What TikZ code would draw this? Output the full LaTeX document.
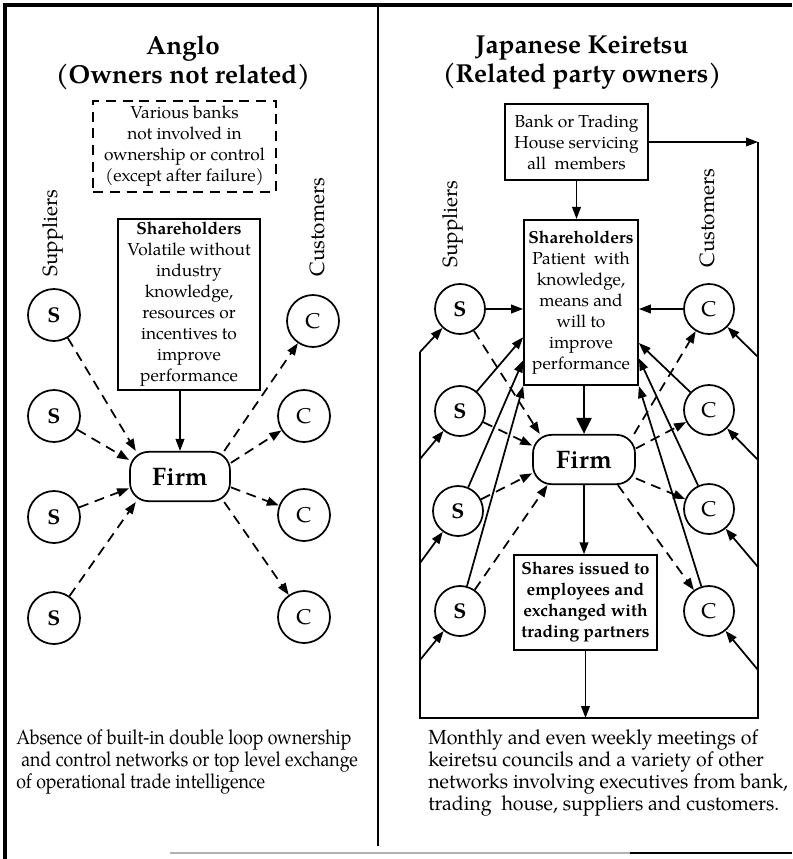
\documentclass[tikz,border=0pt]{standalone}
\usepackage{fontspec}
\setmainfont{TeX Gyre Pagella}
\newfontfamily\condfont[FakeStretch=0.87]{TeX Gyre Pagella}
\newfontfamily\widefont[FakeStretch=0.96]{TeX Gyre Pagella}
\usetikzlibrary{arrows.meta}
\newcommand{\bxfont}{\fontsize{13}{15.75}\selectfont}
\newcommand{\ttlfont}{\fontsize{19.5}{21.75}\selectfont\bfseries}
\newcommand{\lblfont}{\fontsize{15.5}{18}\selectfont}
\newcommand{\notefont}{\condfont\fontsize{15.3}{16.5}\selectfont}
\newcommand{\notefontR}{\widefont\fontsize{15.3}{16.5}\selectfont}
\begin{document}
\begin{tikzpicture}[x=0.75pt,y=-0.75pt,
  line/.style={line width=1.3pt},
  arr/.style={line width=1.3pt,-{Triangle[length=9pt,width=6.5pt]}},
  bigarr/.style={line width=2.2pt,-{Triangle[length=12pt,width=11pt]}},
  darr/.style={arr,dash pattern=on 7.5pt off 5pt},
  box/.style={draw,line width=1.3pt,align=center,inner sep=0pt,font=\bxfont},
  dbox/.style={box,dash pattern=on 7.5pt off 5pt},
  firm/.style={draw,line width=1.3pt,rounded corners=14pt,minimum width=75pt,
    minimum height=37pt,inner sep=0pt,font=\fontsize{19}{20}\selectfont\bfseries},
  sup/.style={draw,circle,line width=1.3pt,inner sep=0pt,minimum size=39pt,
    font=\fontsize{16}{16}\selectfont\bfseries},
  cus/.style={sup,font=\fontsize{16}{16}\selectfont},
  supr/.style={sup,minimum size=37.5pt},
  cusr/.style={cus,minimum size=37.5pt},
  lbl/.style={rotate=90,font=\lblfont,inner sep=0pt},
  ttl/.style={align=center,font=\ttlfont,inner sep=0pt},
  note/.style={align=left,font=\notefont,inner sep=0pt,anchor=west}]

\fill[white] (0,0) rectangle (792,859);
\useasboundingbox (0,0) rectangle (792,859);

% frame and divider
\draw[line width=2.3pt] (792,5) -- (5,5) -- (5,859);
\draw[line width=1.6pt] (378,5) -- (378,846);
\draw[line width=0.8pt,gray!60] (170,853) -- (630,853);
\draw[line width=2pt] (630,853) -- (792,853);

% ---------------- Anglo side ----------------
\node[ttl] (ttlL) at (183,63) {Anglo\\(Owners not related)};
\node[dbox,minimum width=137pt,minimum height=68pt] (banks) at (184.5,146.5)
  {Various banks\\not involved in\\ownership or control\\(except after failure)};
\node[lbl] (supL) at (53,233) {Suppliers};
\node[lbl] (custL) at (317,227) {Customers};
\node[box,minimum width=106.5pt,minimum height=128pt] (shL) at (189,304.5)
  {\textbf{Shareholders}\\Volatile without\\industry\\knowledge,\\resources or\\incentives to\\improve\\performance};
\node[firm] (firmL) at (180,476.5) {Firm};

\node[sup] (sL1) at (54,315) {S};
\node[sup] (sL2) at (54,416) {S};
\node[sup] (sL3) at (54,517) {S};
\node[sup] (sL4) at (54,618) {S};
\node[cus] (cL1) at (313,321) {C};
\node[cus] (cL2) at (304,416) {C};
\node[cus] (cL3) at (304,515) {C};
\node[cus] (cL4) at (304,617) {C};

\draw[arr] (firmL.north |- shL.south) -- (firmL.north);
\draw[darr] (sL1) -- (firmL.150);
\draw[darr] (sL2) -- (firmL.162);
\draw[darr] (sL3) -- (firmL.193);
\draw[darr] (sL4) -- (firmL.210);
\draw[darr] (firmL.30) -- (cL1);
\draw[darr] (firmL.15) -- (cL2);
\draw[darr] (firmL.348) -- (cL3);
\draw[darr] (firmL.330) -- (cL4);

\node[note] (noteL) at (16,762)
  {Absence of built-in double loop ownership\\
   \hspace{0.25em}and control networks or top level exchange\\
   of operational trade intelligence};

% ---------------- Keiretsu side ----------------
\node[ttl] (ttlR) at (582,63) {Japanese Keiretsu\\(Related party owners)};
\node[box,minimum width=107pt,minimum height=57pt] (bank) at (576.5,142)
  {Bank or Trading\\House servicing\\all\ \ members};
\node[lbl] (supR) at (453,224) {Suppliers};
\node[lbl] (custR) at (707,218) {Customers};
\node[box,minimum width=85.5pt,minimum height=124pt] (shR) at (581,302.5)
  {\textbf{Shareholders}\\Patient\ \ with\\knowledge,\\means and\\will to\\improve\\performance};
\node[firm,minimum width=76.5pt] (firmR) at (584,459.5) {Firm};
\node[box,font=\bxfont\bfseries,minimum width=107pt,minimum height=71pt] (shares) at (585.5,602.5)
  {Shares issued to\\employees and\\exchanged with\\trading partners};

\node[supr] (sR1) at (460,309) {S};
\node[supr] (sR2) at (460,411) {S};
\node[supr] (sR3) at (458,511) {S};
\node[supr] (sR4) at (460,611) {S};
\node[cusr] (cR1) at (709,309) {C};
\node[cusr] (cR2) at (709,410) {C};
\node[cusr] (cR3) at (709,509) {C};
\node[cusr] (cR4) at (709,611) {C};

% feedback loop round the group
\coordinate (lpTR) at (758,142);
\coordinate (lpBR) at (758,718);
\coordinate (lpBL) at (420,718);
\coordinate (lpTL) at (420,352);
\draw[arr] (bank.east) -- (lpTR);
\draw[line] (lpTR) -- (lpBR) -- (lpBL) -- (lpTL);
\draw[arr] (shares.south) -- (shares.south |- lpBL);

\coordinate (fl1) at (420,352);
\coordinate (fl2) at (420,459);
\coordinate (fl3) at (420,563);
\coordinate (fl4) at (420,660);
\coordinate (fr1) at (758,357);
\coordinate (fr2) at (758,460);
\coordinate (fr3) at (758,567);
\coordinate (fr4) at (758,670);
\draw[arr] (fl1) -- (sR1);
\draw[arr] (fl2) -- (sR2);
\draw[arr] (fl3) -- (sR3);
\draw[arr] (fl4) -- (sR4);
\draw[arr] (fr1) -- (cR1);
\draw[arr] (fr2) -- (cR2);
\draw[arr] (fr3) -- (cR3);
\draw[arr] (fr4) -- (cR4);

% ownership links into the shareholders
\draw[arr] (bank.south) -- (bank.south |- shR.north);
\draw[arr] (sR1) -- (sR1 -| shR.west);
\draw[arr] (cR1) -- (cR1 -| shR.east);
\draw[arr] (sR2) -- (shR.211);
\draw[arr] (sR3) -- (shR.225);
\draw[arr] (sR4) -- (shR.south west);
\draw[arr] (cR2) -- (shR.325);
\draw[arr] (cR3) -- (shR.316);
\draw[arr] (cR4) -- (shR.south east);
\draw[bigarr] (shR.south -| firmR.north) -- (firmR.north);
\draw[arr] (firmR.south) -- (firmR.south |- shares.north);

% trade flows
\draw[darr] (sR1) -- (firmR.150);
\draw[darr] (sR2) -- (firmR.165);
\draw[darr] (sR3) -- (firmR.195);
\draw[darr] (sR4) -- (firmR.215);
\draw[darr] (firmR.27) -- (cR1);
\draw[darr] (firmR.12) -- (cR2);
\draw[darr] (firmR.340) -- (cR3);
\draw[darr] (firmR.323) -- (cR4);

\node[note,font=\notefontR] (noteR) at (428,773)
  {Monthly and even weekly meetings of\\
   keiretsu councils and a variety of other\\
   networks involving executives from bank,\\
   trading\ \ house, suppliers and customers.};
\end{tikzpicture}
\end{document}
